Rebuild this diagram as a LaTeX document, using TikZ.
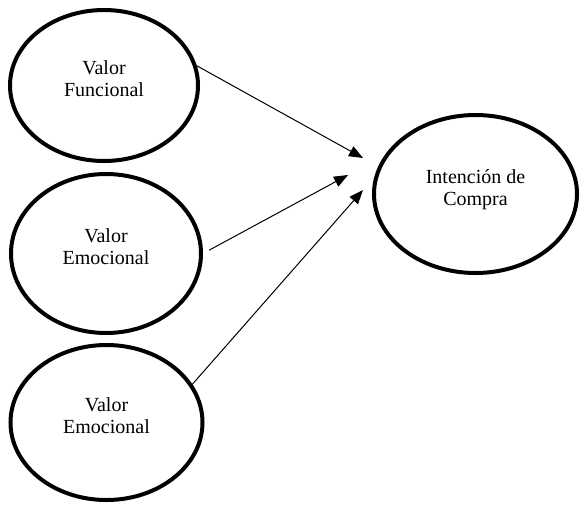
\documentclass[tikz,border=0pt]{standalone}
\usepackage{fontspec}
\setmainfont{Liberation Serif}
\usetikzlibrary{arrows.meta,shapes.geometric}
\begin{document}
\begin{tikzpicture}[x=1pt,y=-1pt,
  construct/.style={draw, ellipse, line width=4pt, inner sep=0pt, align=center,
    text depth=13pt, font=\fontsize{20}{22}\selectfont},
  conn/.style={line width=1pt, -{Triangle[length=14pt,width=11pt]}}]
\useasboundingbox (0,0) rectangle (580,504);
\node[construct, minimum width=188pt, minimum height=151pt] (e1) at (104,85.5) {Valor\\Funcional};
\node[construct, minimum width=190pt, minimum height=159pt] (e2) at (106,253.5) {Valor\\Emocional};
\node[construct, minimum width=192pt, minimum height=155pt] (e3) at (106.5,422.5) {Valor\\Emocional};
\node[construct, minimum width=203pt, minimum height=158pt] (ic) at (475.5,194) {Intención de\\Compra};
\coordinate (t1) at (363,158);
\coordinate (t2) at (348,175);
\coordinate (t3) at (363,190);
\draw[conn] (e1.12) -- (t1);
\draw[conn, shorten <=7pt] (e2.east) -- (t2);
\draw[conn] (e3.24) -- (t3);
\end{tikzpicture}
\end{document}
